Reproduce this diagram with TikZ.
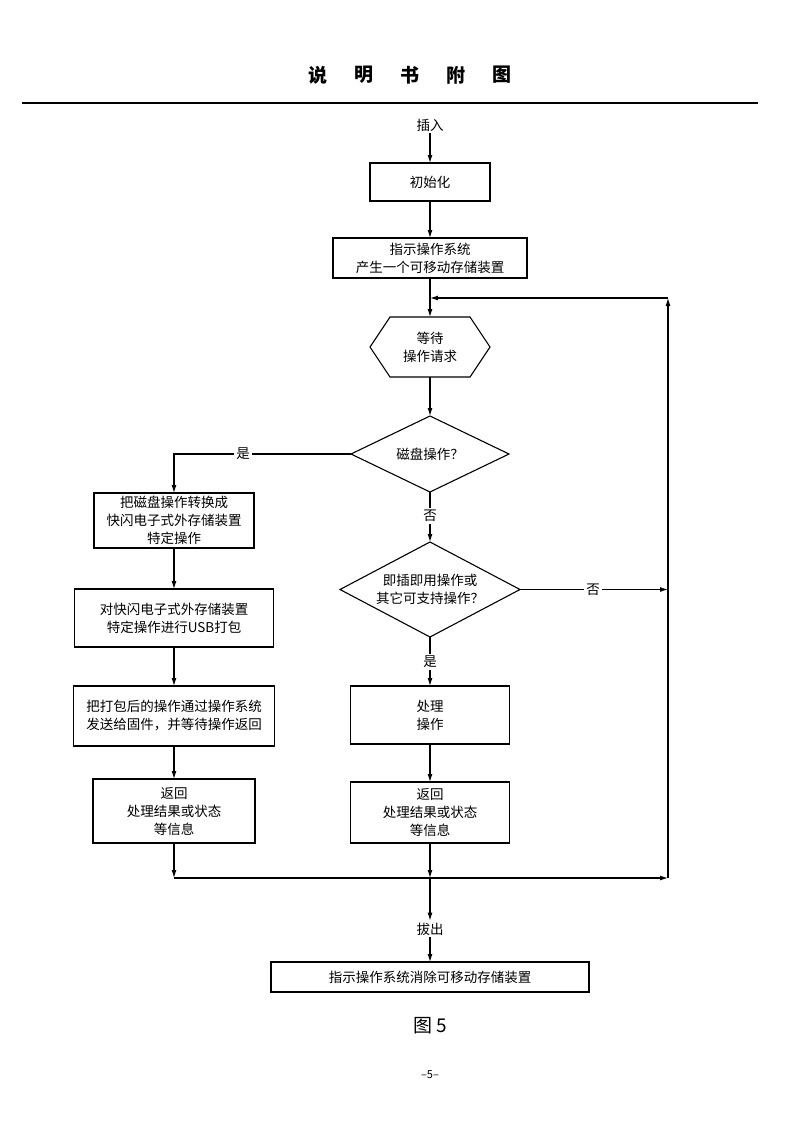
\documentclass[tikz,border=0pt]{standalone}
\usepackage{fontspec}
\newfontfamily\cjk{Noto Sans CJK SC}
\usetikzlibrary{arrows.meta,shapes.geometric,calc}
\begin{document}
\begin{tikzpicture}[x=1pt,y=-1pt,
  every node/.style={font=\cjk\fontsize{13.5}{18}\selectfont},
  box/.style={draw, line width=1.1pt, align=center, inner sep=0pt, outer sep=0pt},
  dia/.style={draw, diamond, aspect=2, line width=1.1pt, align=center, inner sep=0pt, outer sep=0pt},
  arr/.style={-{Latex[length=8pt,width=5pt]}, line width=1.1pt},
  ln/.style={line width=1.1pt},
  lbl/.style={fill=white, inner sep=2pt},
  ttl/.style={font=\cjk\bfseries\fontsize{19}{19}\selectfont}]
\useasboundingbox (0,0) rectangle (793,1122);
% title
\node[ttl] (t1) at (318,75) {说};
\node[ttl] (t2) at (364,75) {明};
\node[ttl] (t3) at (410,75) {书};
\node[ttl] (t4) at (456,75) {附};
\node[ttl] (t5) at (502,75) {图};
\draw[line width=1.6pt] (22,103) -- (758,103);
% nodes
\node[lbl] (in) at (430,125) {插入};
\node[box, minimum width=120, minimum height=38] (b1) at (430,182) {初始化};
\node[box, minimum width=194, minimum height=40] (b2) at (430,258) {指示操作系统\\产生一个可移动存储装置};
\node[align=center, inner sep=0pt, outer sep=0pt, minimum width=120, minimum height=60] (hex) at (430,347) {等待\\操作请求};
\draw[ln] (hex.west) -- ($(hex.north west)+(20,0)$) -- ($(hex.north east)+(-20,0)$) -- (hex.east) -- ($(hex.south east)+(-20,0)$) -- ($(hex.south west)+(20,0)$) -- cycle;
\node[dia, minimum width=158, minimum height=76] (d1) at (430,454) {磁盘操作？};
\node[lbl] (yes1) at (243,454) {是};
\node[lbl] (no1) at (430,516) {否};
\node[dia, minimum width=180, minimum height=95] (d2) at (430,589.5) {即插即用操作或\\其它可支持操作？};
\node[lbl] (no2) at (593,589.5) {否};
\node[lbl] (yes2) at (430,662) {是};
\node[box, minimum width=160, minimum height=55] (L1) at (174,520.5) {把磁盘操作转换成\\快闪电子式外存储装置\\特定操作};
\node[box, minimum width=199, minimum height=58] (L2) at (174,618) {对快闪电子式外存储装置\\特定操作进行USB打包};
\node[box, minimum width=201, minimum height=60] (L3) at (174,716) {把打包后的操作通过操作系统\\发送给固件，并等待操作返回};
\node[box, minimum width=162, minimum height=64] (L4) at (174,811) {返回\\处理结果或状态\\等信息};
\node[box, minimum width=159, minimum height=58] (M1) at (430,715) {处理\\操作};
\node[box, minimum width=159, minimum height=61] (M2) at (430,812.5) {返回\\处理结果或状态\\等信息};
\node[lbl] (out) at (430,929) {拔出};
\node[box, minimum width=318, minimum height=30] (fin) at (430,977) {指示操作系统消除可移动存储装置};
\node[font=\cjk\fontsize{19}{19}\selectfont] (fig) at (430,1026) {图 5};
\node[font=\cjk\fontsize{11}{11}\selectfont] (pg) at (430,1075) {–5–};
% junctions
\coordinate (jl) at (174,878);
\coordinate (jm) at (430,878);
\coordinate (jr) at (668,878);
\coordinate (jt) at (668,298);
\coordinate (jc) at (430,298);
\coordinate (jn) at (668,589.5);
% connectors
\draw[arr] (in.south) -- (b1.north);
\draw[arr] (b1.south) -- (b2.north);
\draw[arr] (b2.south) -- (hex.north);
\draw[arr] (hex.south) -- (d1.north);
\draw[ln] (d1.west) -- (yes1.east);
\draw[arr] (yes1.west) -| (L1.north);
\draw[ln] (d1.south) -- (no1.north);
\draw[arr] (no1.south) -- (d2.north);
\draw[ln] (d2.east) -- (no2.west);
\draw[arr] (no2.east) -- (jn);
\draw[ln] (d2.south) -- (yes2.north);
\draw[arr] (yes2.south) -- (M1.north);
\draw[arr] (L1.south) -- (L2.north);
\draw[arr] (L2.south) -- (L3.north);
\draw[arr] (L3.south) -- (L4.north);
\draw[arr] (M1.south) -- (M2.north);
\draw[arr] (L4.south) -- (jl);
\draw[arr] (jl) -- (jr);
\draw[arr] (M2.south) -- (jm);
\draw[arr] (jm) -- (out.north);
\draw[arr] (out.south) -- (fin.north);
\draw[arr] (jr) -- (jt);
\draw[arr] (jt) -- (jc);
\end{tikzpicture}
\end{document}
